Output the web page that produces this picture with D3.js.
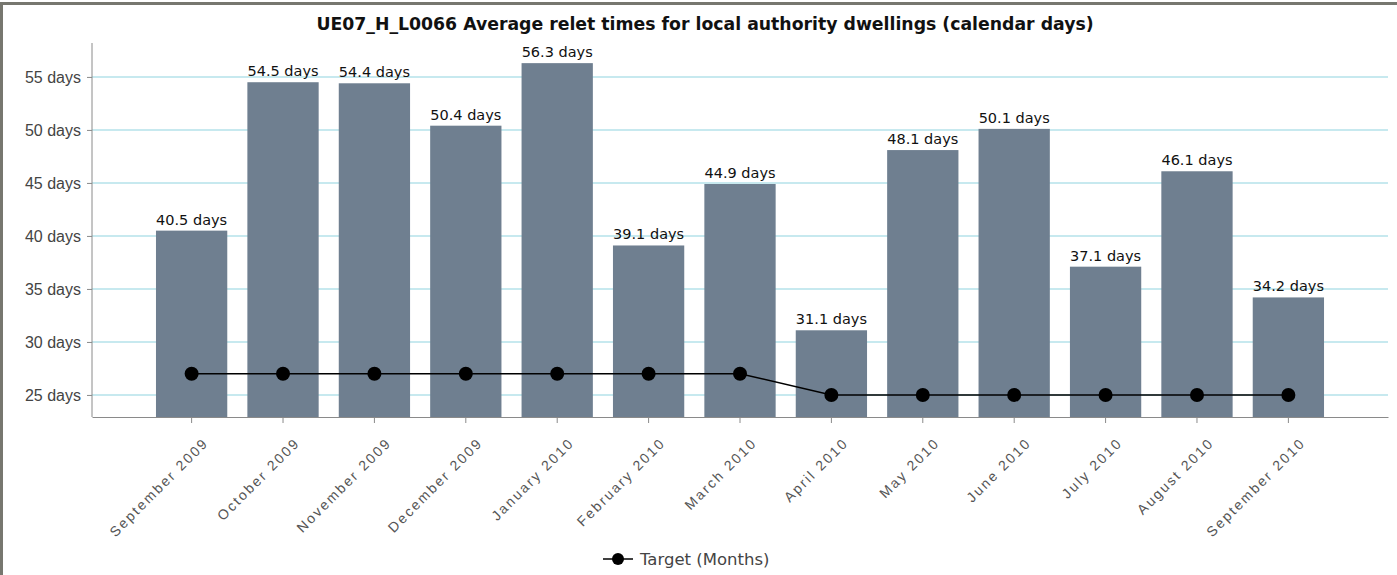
<!DOCTYPE html>
<html>
<head>
<meta charset="utf-8">
<title>UE07_H_L0066</title>
<style>
    body {
        margin: 0;
        background-color: white;
        font-family: "DejaVu Sans", Verdana, sans-serif;
    }

    .grid line {
        stroke: #b4e2ea;
        stroke-width: 1.5px;
    }

    .axis path,
    .axis line {
        stroke: #8a8a8a;
    }

    .y-axis text {
        fill: #444;
        font-size: 16px;
    }

    .x-axis text {
        fill: #555;
        font-size: 14px;
        letter-spacing: 2.1px;
    }
</style>
</head>
<body>
<svg id="chart" width="1397" height="575"></svg>
<script src="https://d3js.org/d3.v7.min.js"></script>
<script>
    var months = ["September 2009", "October 2009", "November 2009", "December 2009", "January 2010",
        "February 2010", "March 2010", "April 2010", "May 2010", "June 2010", "July 2010",
        "August 2010", "September 2010"];
    var reletDays = [40.5, 54.5, 54.4, 50.4, 56.3, 39.1, 44.9, 31.1, 48.1, 50.1, 37.1, 46.1, 34.2];
    var targetDays = [27, 27, 27, 27, 27, 27, 27, 25, 25, 25, 25, 25, 25];
    var yTicks = [25, 30, 35, 40, 45, 50, 55];

    var svg = d3.select("#chart");

    // grey frame round the chart, as in the original export
    svg.append("path")
        .attr("d", "M1.5,575 L1.5,3.5 L1397,3.5")
        .attr("fill", "none")
        .attr("stroke", "#77776f")
        .attr("stroke-width", 3);

    var margin = { top: 43, left: 92, right: 9, bottom: 158 };
    var width = 1397 - margin.left - margin.right;
    var height = 575 - margin.top - margin.bottom;

    var g = svg.append("g")
        .attr("transform", "translate(" + margin.left + "," + margin.top + ")");

    var x = d3.scaleBand()
        .domain(months)
        .range([0, width])
        .paddingInner(0.22)
        .paddingOuter(0.7);

    var y = d3.scaleLinear()
        .domain([22.92, 58.2])
        .range([height, 0]);

    svg.append("text")
        .attr("x", 705)
        .attr("y", 30)
        .attr("text-anchor", "middle")
        .style("font-size", "17.3px")
        .style("font-weight", "bold")
        .style("fill", "#111")
        .text("UE07_H_L0066 Average relet times for local authority dwellings (calendar days)");

    g.append("g")
        .attr("class", "grid")
        .selectAll("line")
        .data(yTicks)
        .enter().append("line")
        .attr("x1", 0)
        .attr("x2", width)
        .attr("y1", function(d) { return y(d); })
        .attr("y2", function(d) { return y(d); });

    g.selectAll(".bar")
        .data(reletDays)
        .enter().append("rect")
        .attr("class", "bar")
        .attr("x", function(d, i) { return x(months[i]); })
        .attr("width", x.bandwidth())
        .attr("y", function(d) { return y(d); })
        .attr("height", function(d) { return height - y(d); })
        .attr("fill", "#6f7f90");

    g.selectAll(".bar-label")
        .data(reletDays)
        .enter().append("text")
        .attr("class", "bar-label")
        .attr("x", function(d, i) { return x(months[i]) + x.bandwidth() / 2; })
        .attr("y", function(d) { return y(d) - 6; })
        .attr("text-anchor", "middle")
        .style("font-size", "14.5px")
        .style("fill", "#111")
        .text(function(d) { return d.toFixed(1) + " days"; });

    g.append("g")
        .attr("class", "axis y-axis")
        .call(d3.axisLeft(y).tickValues(yTicks).tickSize(5).tickPadding(6)
            .tickFormat(function(d) { return d + " days"; }))
        .call(function(a) { a.select(".domain").attr("d", "M0," + height + "V0"); });

    g.append("g")
        .attr("class", "axis x-axis")
        .attr("transform", "translate(0," + height + ")")
        .call(d3.axisBottom(x).tickSize(6).tickSizeOuter(0))
        .selectAll("text")
        .attr("text-anchor", "end")
        .attr("dx", "-0.45em")
        .attr("dy", "1.6em")
        .attr("transform", "rotate(-45)");

    var cx = function(d, i) { return x(months[i]) + x.bandwidth() / 2; };

    g.append("path")
        .datum(targetDays)
        .attr("fill", "none")
        .attr("stroke", "#000")
        .attr("stroke-width", 1.5)
        .attr("d", d3.line().x(cx).y(function(d) { return y(d); }));

    g.selectAll(".dot")
        .data(targetDays)
        .enter().append("circle")
        .attr("class", "dot")
        .attr("cx", cx)
        .attr("cy", function(d) { return y(d); })
        .attr("r", 7)
        .attr("fill", "#000");

    var legend = svg.append("g").attr("transform", "translate(618,559)");
    legend.append("line")
        .attr("x1", -15).attr("x2", 15)
        .attr("stroke", "#000").attr("stroke-width", 1.5);
    legend.append("circle").attr("r", 6).attr("fill", "#000");
    legend.append("text")
        .attr("x", 22)
        .attr("dy", "0.35em")
        .style("font-size", "16.5px")
        .style("fill", "#444")
        .text("Target (Months)");
</script>
</body>
</html>
